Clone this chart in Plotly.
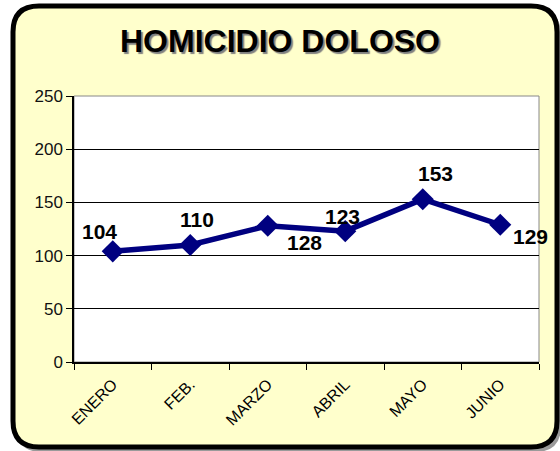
import plotly.graph_objects as go

months = ["ENERO", "FEB.", "MARZO", "ABRIL", "MAYO", "JUNIO"]
values = [104, 110, 128, 123, 153, 129]
y_ticks = [0, 50, 100, 150, 200, 250]
title_text = "HOMICIDIO DOLOSO"

W, H = 560, 451
L, R, T, B = 74, 21, 96, 89
pw, ph = W - L - R, H - T - B

def px(x):
    return (x - L) / pw

def py(y):
    return (H - B - y) / ph

fig = go.Figure()
fig.add_trace(go.Scatter(
    x=months, y=values, mode="lines+markers",
    line=dict(color="#000080", width=5.5),
    marker=dict(symbol="diamond", size=17, color="#000080"),
    hoverinfo="skip", showlegend=False,
))

# data labels (pixel offsets relative to the point)
label_offsets = [(-13, 20), (7, 25), (37, -17), (-3, 15), (13, 26), (30, -12)]
for m, v, (dx, dy) in zip(months, values, label_offsets):
    fig.add_annotation(x=m, y=v, text=str(v), showarrow=False,
                       xshift=dx, yshift=dy,
                       font=dict(family="Liberation Sans, Arial", size=21,
                                 color="black", weight="bold"))

# outer rounded frame with shadow
def rounded(x0, y0, x1, y1, r):
    X0, X1 = px(x0), px(x1)
    Y0, Y1 = py(y0), py(y1)
    rx, ry = r / pw, r / ph
    return (f"M {X0+rx},{Y0} L {X1-rx},{Y0} Q {X1},{Y0} {X1},{Y0-ry} "
            f"L {X1},{Y1+ry} Q {X1},{Y1} {X1-rx},{Y1} L {X0+rx},{Y1} "
            f"Q {X0},{Y1} {X0},{Y1+ry} L {X0},{Y0-ry} Q {X0},{Y0} {X0+rx},{Y0} Z")

fig.add_shape(type="path", xref="paper", yref="paper", layer="below",
              path=rounded(16, 9, 561, 452, 26),
              fillcolor="#9a9a9a", line=dict(width=0))
fig.add_shape(type="path", xref="paper", yref="paper", layer="below",
              path=rounded(13, 6, 557, 447, 26),
              fillcolor="#FFFFCC", line=dict(color="black", width=5))
# white plot area
fig.add_shape(type="rect", xref="paper", yref="paper", layer="below",
              x0=0, y0=0, x1=1, y1=1, fillcolor="white",
              line=dict(color="#888888", width=1))

# title with shadow
fig.add_annotation(xref="paper", yref="paper", x=px(280), y=py(41),
                   text=title_text, showarrow=False,
                   xanchor="center", yanchor="middle",
                   font=dict(family="Liberation Sans, Arial", size=32,
                             color="black", weight="bold",
                             shadow="2px 2px 1px #808080"))

fig.update_layout(
    width=W, height=H,
    margin=dict(l=L, r=R, t=T, b=B),
    paper_bgcolor="white", plot_bgcolor="rgba(0,0,0,0)",
    xaxis=dict(type="category", range=[-0.5, 5.5], tickson="boundaries",
               ticks="outside", ticklen=6, tickcolor="black", tickwidth=1,
               showgrid=False, showline=True, linecolor="black", linewidth=1.5,
               tickangle=-45, ticklabelstandoff=5,
               tickfont=dict(family="Liberation Sans, Arial", size=16, color="black")),
    yaxis=dict(range=[0, 250], tickvals=y_ticks, ticks="outside", ticklen=6,
               tickcolor="black", showgrid=True, gridcolor="black", gridwidth=1.3,
               showline=True, linecolor="black", linewidth=1.5, zeroline=False,
               tickfont=dict(family="Liberation Sans, Arial", size=17, color="#111")),
)

fig.write_html("out.html", config={"displayModeBar": False},
               post_script="document.body.style.margin='0';")
